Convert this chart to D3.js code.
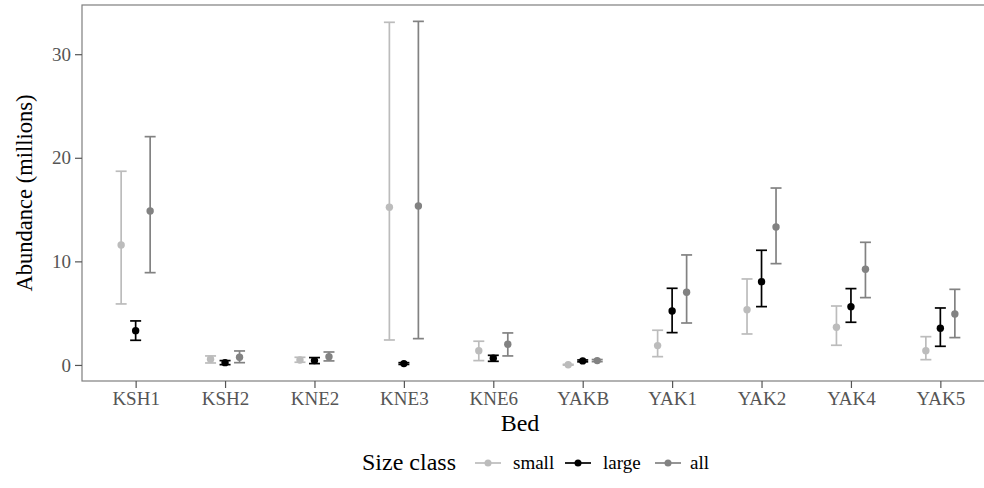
<!DOCTYPE html>
<html><head><meta charset="utf-8">
<script src="https://cdn.jsdelivr.net/npm/d3@7"></script>
<style>body{margin:0;background:#fff}</style>
</head><body>
<svg id="c" width="984" height="488"></svg>
<script>
const beds = ["KSH1","KSH2","KNE2","KNE3","KNE6","YAKB","YAK1","YAK2","YAK4","YAK5"];
const sizeClasses = ["small","large","all"];
const smallMean = [11.58,0.55,0.48,15.22,1.38,0.02,1.87,5.34,3.64,1.38];
const smallLow  = [5.89,0.19,0.26,2.41,0.42,-0.02,0.80,2.99,1.90,0.51];
const smallHigh = [18.70,0.87,0.74,33.08,2.29,0.06,3.35,8.30,5.69,2.73];
const largeMean = [3.31,0.22,0.42,0.13,0.64,0.39,5.21,8.04,5.63,3.54];
const largeLow  = [2.38,0.03,0.13,0.05,0.35,0.30,3.12,5.63,4.12,1.80];
const largeHigh = [4.25,0.42,0.71,0.22,0.93,0.48,7.40,11.07,7.37,5.50];
const allMean   = [14.86,0.74,0.80,15.35,2.00,0.42,7.02,13.32,9.24,4.92];
const allLow    = [8.91,0.22,0.39,2.54,0.87,0.32,4.05,9.78,6.50,2.64];
const allHigh   = [22.04,1.35,1.25,33.17,3.09,0.52,10.62,17.08,11.84,7.30];
const yTicks = [0,10,20,30];

const colors = {small:"#bcbcbc", large:"#000000", all:"#828282"};
const series = {
  small:{mean:smallMean, low:smallLow, high:smallHigh},
  large:{mean:largeMean, low:largeLow, high:largeHigh},
  all:{mean:allMean, low:allLow, high:allHigh}
};
const data = [];
sizeClasses.forEach(s => beds.forEach((b,i) => data.push({bed:b, cls:s, mean:series[s].mean[i], low:series[s].low[i], high:series[s].high[i]})));

const svg = d3.select("#c").attr("font-family","Liberation Serif");
const L=82, R=994, T=5, B=381;
const font = "Liberation Serif";
const x = d3.scalePoint().domain(beds).range([L,R]).padding(0.6);
const y = d3.scaleLinear().domain([-1.55,34.75]).range([B,T]);
const dodge = d3.scalePoint().domain(sizeClasses).range([-14.5,14.5]);

svg.append("rect").attr("x",L).attr("y",T).attr("width",R-L).attr("height",B-T)
  .attr("fill","none").attr("stroke","#7f7f7f").attr("stroke-width",1.2);

const g = svg.append("g");
g.selectAll("g.eb").data(data).enter().append("g").each(function(d){
  const cx = x(d.bed)+dodge(d.cls), c = colors[d.cls], sel=d3.select(this);
  sel.append("line").attr("x1",cx).attr("x2",cx).attr("y1",y(d.low)).attr("y2",y(d.high)).attr("stroke",c).attr("stroke-width",1.7);
  [d.low,d.high].forEach(v=>sel.append("line").attr("x1",cx-5.5).attr("x2",cx+5.5).attr("y1",y(v)).attr("y2",y(v)).attr("stroke",c).attr("stroke-width",1.7));
  sel.append("circle").attr("cx",cx).attr("cy",y(d.mean)).attr("r",3.7).attr("fill",c);
});

const yAxis = svg.append("g").attr("transform",`translate(${L},0)`).call(d3.axisLeft(y).tickValues(yTicks).tickSize(7).tickPadding(4));
const xAxis = svg.append("g").attr("transform",`translate(0,${B})`).call(d3.axisBottom(x).tickSize(7).tickPadding(4));
[yAxis,xAxis].forEach(a=>{
  a.attr("font-family",font).attr("font-size",19);
  a.select(".domain").remove();
  a.selectAll(".tick line").attr("stroke","#555").attr("stroke-width",1.2);
  a.selectAll(".tick text").attr("fill","#555").attr("font-family",font).attr("font-size",19);
});

svg.append("text").attr("x",520).attr("y",431).attr("text-anchor","middle")
  .attr("font-family",font).attr("font-size",24).text("Bed");
svg.append("text").attr("transform",`translate(32,${(T+B)/2}) rotate(-90)`).attr("text-anchor","middle")
  .attr("font-family",font).attr("font-size",22.5).text("Abundance (millions)");

const ly = 463;
svg.append("text").attr("x",362).attr("y",ly+7).attr("font-family",font).attr("font-size",24).text("Size class");
const lx = [475,565,655];
const tx = [513,603,690];
sizeClasses.forEach((s,i)=>{
  const g2 = svg.append("g");
  g2.append("line").attr("x1",lx[i]).attr("x2",lx[i]+26).attr("y1",ly).attr("y2",ly).attr("stroke",colors[s]).attr("stroke-width",1.7);
  g2.append("circle").attr("cx",lx[i]+13).attr("cy",ly).attr("r",3.5).attr("fill",colors[s]);
  g2.append("text").attr("x",tx[i]).attr("y",ly+6).attr("font-family",font).attr("font-size",19).text(s);
});
</script>
</body></html>
